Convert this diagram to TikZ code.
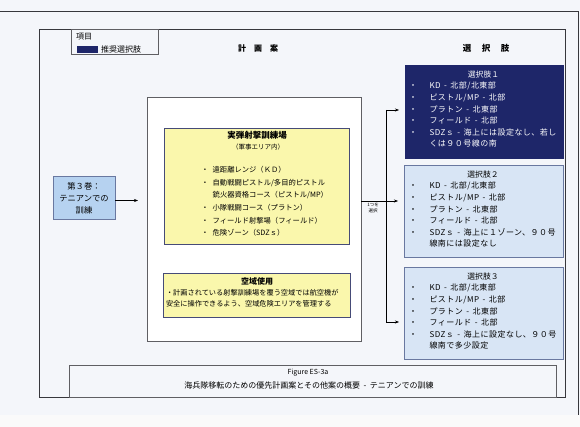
\documentclass[tikz,border=0pt]{standalone}
\usepackage{fontspec}
\setmainfont{Noto Sans CJK JP}
\usetikzlibrary{arrows.meta}
\definecolor{pagebg}{RGB}{244,246,250}
\definecolor{stripbg}{RGB}{250,250,250}
\definecolor{navyfill}{RGB}{30,38,105}
\definecolor{yellowfill}{RGB}{250,247,172}
\definecolor{optfill}{RGB}{216,229,245}
\definecolor{infill}{RGB}{182,210,240}
\definecolor{optborder}{RGB}{105,120,160}
\definecolor{ybord}{RGB}{70,75,120}
\definecolor{framecol}{RGB}{55,55,60}
\newcommand{\myfs}[2]{\fontsize{#1}{#2}\selectfont}
\newcommand{\mysep}{\hspace{3.5pt}-\hspace{3.5pt}}
\begin{document}
\begin{tikzpicture}[x=1pt,y=-1pt,
  box/.style={draw, rectangle, inner sep=0pt},
  framebox/.style={box, draw=framecol, line width=0.9pt},
  thinbox/.style={box, draw=framecol!80, line width=0.6pt},
  ybox/.style={box, draw=ybord, line width=0.8pt, fill=yellowfill},
  optbox/.style={box, draw=optborder, line width=0.7pt, fill=optfill, minimum width=159, minimum height=92},
  navybox/.style={box, draw=navyfill, line width=0.7pt, fill=navyfill, minimum width=158, minimum height=93},
  txt/.style={inner sep=0pt, outer sep=0pt},
  item/.style={txt, anchor=base west},
  optitems/.style={item, font=\myfs{8}{11.6}\addfontfeatures{LetterSpace=6}},
  wire/.style={draw, line width=0.5pt},
  conn/.style={wire, -{Stealth[length=4pt,width=3pt]}},
]
\useasboundingbox (0,0) rectangle (580,427);
\fill[pagebg] (0,0) rectangle (580,427);
\fill[stripbg] (0,415) rectangle (580,427);
\draw[framecol, line width=0.8pt] (0,11) -- (578,11) -- (578,415);

% main frame
\node[framebox, minimum width=526, minimum height=368, anchor=north west] (frame) at (39,29) {};
% legend
\node[thinbox, minimum width=87, minimum height=25, anchor=north west] (legend) at (71,29) {};
\node[txt, anchor=west, font=\myfs{8}{9}] (legtitle) at (76,36.5) {項目};
\node[box, fill=navyfill, draw=navyfill, minimum width=20, minimum height=6, anchor=north west] (swatch) at (77,46) {};
\node[txt, anchor=west, font=\myfs{8}{9}] (legtext) at (101,49) {推奨選択肢};

% headers
\node[txt, font=\myfs{8}{9}\bfseries] (hplan) at (258,48) {計\hspace{8pt}画\hspace{8pt}案};
\node[txt, font=\myfs{8.5}{9}\bfseries] (hopt) at (486,48) {選\hspace{10.5pt}択\hspace{10.5pt}肢};

% input box
\node[box, draw=optborder, line width=0.7pt, fill=infill, minimum width=62, minimum height=43, align=center, font=\myfs{8.3}{12}] (inbox) at (84,198) {第３巻：\\テニアンでの\\訓練};
\coordinate (inEnd) at (138,200.5);
\draw[conn] (inbox.east |- inEnd) -- (inEnd);

% big plan box
\node[thinbox, fill=white, minimum width=214, minimum height=244] (bigbox) at (254,219) {};

% yellow box 1
\node[ybox, minimum width=185, minimum height=116] (range) at (256.5,186) {};
\node[txt, font=\myfs{8.5}{10}\bfseries] (rangetitle) at (257,135) {実弾射撃訓練場};
\node[txt, font=\myfs{6.5}{8}] (rangesub) at (258,147) {（軍事エリア内）};
\node[item, font=\myfs{7.3}{12.6}] (rangeitems) at (201.4,172.8) {%
\begin{tabular}[t]{@{}l@{\hspace{4pt}}l@{}}
・& 遠距離レンジ（ＫＤ）\\
・& 自動戦闘ピストル/多目的ピストル\\
 & 銃火器資格コース（ピストル/MP）\\
・& 小隊戦闘コース（プラトン）\\
・& フィールド射撃場（フィールド）\\
・& 危険ゾーン（SDZｓ）
\end{tabular}};

% yellow box 2
\node[ybox, minimum width=187, minimum height=44] (air) at (256.5,295) {};
\node[txt, font=\myfs{8}{10}\bfseries] (airtitle) at (257,281.5) {空域使用};
\node[item, font=\myfs{7.2}{11}] (airtext) at (166,295.7) {%
\begin{tabular}[t]{@{}l@{}}
・計画されている射撃訓練場を覆う空域では航空機が\\
安全に操作できるよう、空域危険エリアを管理する
\end{tabular}};

% option boxes
\node[navybox, anchor=north west] (opt1) at (405,65) {};
\node[optbox, anchor=north west] (opt2) at (404,165) {};
\node[optbox, anchor=north west] (opt3) at (404,267) {};

\node[txt, text=white, font=\myfs{7.8}{9}] (opt1title) at (483.5,74.5) {選択肢１};
\node[optitems, text=white] (opt1items) at (409,88.9) {%
\begin{tabular}[t]{@{}l@{\hspace{12.5pt}}l@{}}
・& KD\mysep 北部/北東部\\
・& ピストル/MP\mysep 北部\\
・& プラトン\mysep 北東部\\
・& フィールド\mysep 北部\\
・& SDZｓ\mysep 海上には設定なし、若し\\
 & くは９０号線の南
\end{tabular}};

\node[txt, font=\myfs{7.8}{9}] (opt2title) at (483,174.5) {選択肢２};
\node[optitems] (opt2items) at (409,188.9) {%
\begin{tabular}[t]{@{}l@{\hspace{12.5pt}}l@{}}
・& KD\mysep 北部/北東部\\
・& ピストル/MP\mysep 北部\\
・& プラトン\mysep 北東部\\
・& フィールド\mysep 北部\\
・& SDZｓ\mysep 海上に１ゾーン、９０号\\
 & 線南には設定なし
\end{tabular}};

\node[txt, font=\myfs{7.8}{9}] (opt3title) at (483,276.5) {選択肢３};
\node[optitems] (opt3items) at (409,290.9) {%
\begin{tabular}[t]{@{}l@{\hspace{12.5pt}}l@{}}
・& KD\mysep 北部/北東部\\
・& ピストル/MP\mysep 北部\\
・& プラトン\mysep 北東部\\
・& フィールド\mysep 北部\\
・& SDZｓ\mysep 海上に設定なし、９０号\\
 & 線南で多少設定
\end{tabular}};

% connectors
\coordinate (split) at (386,201);
\coordinate (t1) at (386,110);
\coordinate (t3) at (386,322);
\draw[conn, shorten >=6pt] (bigbox.east |- split) -- (split -| opt2.west);
\draw[wire] (t1) -- (t3);
\draw[conn, shorten >=6pt] (t1) -- (t1 -| opt1.west);
\draw[conn, shorten >=5pt] (t3) -- (t3 -| opt3.west);
\node[txt, align=center, font=\myfs{4.5}{6}] (pick) at (373,207.5) {1つを\\選択};

% caption
\node[thinbox, minimum width=487, minimum height=32, anchor=north west] (capbox) at (69,365) {};
\node[txt, font=\myfs{7}{8}] (capfig) at (308,373) {Figure ES-3a};
\node[txt, font=\myfs{8}{9}] (captext) at (309,385) {海兵隊移転のための優先計画案とその他案の概要\mysep テニアンでの訓練};
\end{tikzpicture}
\end{document}
